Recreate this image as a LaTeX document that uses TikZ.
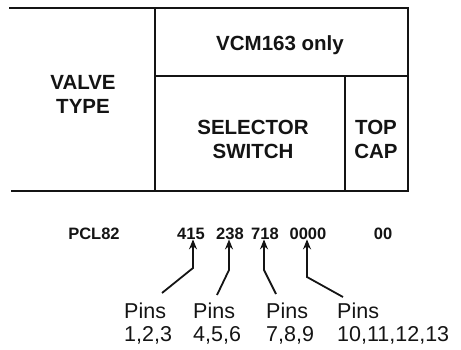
\documentclass[tikz,border=0pt]{standalone}
\usepackage{fontspec}
\setmainfont{Liberation Sans}
\usetikzlibrary{arrows.meta,positioning}
\definecolor{pBlack}{gray}{0.08}
\tikzset{
    frame/.style={line width=1.7pt, pBlack, line cap=rect},
    hdr/.style={inner sep=0pt, align=center, font=\fontsize{20.5}{24}\selectfont\bfseries, pBlack},
    code/.style={inner sep=0pt, font=\fontsize{16.5}{19}\selectfont\bfseries, pBlack},
    pinlbl/.style={inner sep=0pt, align=left, font=\fontsize{21.5}{23}\selectfont, pBlack},
    pinarr/.style={line width=1.8pt, pBlack, -{Stealth[length=10pt,width=8pt]}}
}

\begin{document}
\begin{tikzpicture}[x=1pt,y=-1pt]
\useasboundingbox (0,0) rectangle (461,349);
% table
\draw[frame] (10,8)--(408,8);
\draw[frame] (12,191)--(408,191);
\draw[frame] (155,8)--(155,191);
\draw[frame] (408,8)--(408,191);
\draw[frame] (155,76)--(408,76);
\draw[frame] (345,76)--(345,191);
\node[hdr,anchor=base] (vtype) at ( 83,113) {VALVE\\TYPE};
\node[hdr,anchor=base] (vcm)   at (280, 50) {VCM163 only};
\node[hdr,anchor=base] (sel)   at (253,158) {SELECTOR\\SWITCH};
\node[hdr,anchor=base] (cap)   at (376,158) {TOP\\CAP};
% code line
\node[code,anchor=base] (pcl)  at ( 94,239) {PCL82};
\node[code,anchor=base] (g415) at (191,239) {415};
\node[code,anchor=base] (g238) at (230,239) {238};
\node[code,anchor=base] (g718) at (265,239) {718};
\node[code,anchor=base] (g0)   at (308,239) {0000};
\node[code,anchor=base] (g00)  at (383,239) {00};
% pin labels
\node[pinlbl,anchor=base west] (p1) at (124,341) {Pins\\1,2,3};
\node[pinlbl,anchor=base west] (p2) at (193,341) {Pins\\4,5,6};
\node[pinlbl,anchor=base west] (p3) at (266,341) {Pins\\7,8,9};
\node[pinlbl,anchor=base west] (p4) at (337,341) {Pins\\10,11,12,13};
\coordinate (s1) at (162,293); \coordinate (b1) at (193,268);
\coordinate (s2) at (217,295); \coordinate (b2) at (229,270);
\coordinate (s3) at (276,294); \coordinate (b3) at (264,270);
\coordinate (s4) at (343,297); \coordinate (b4) at (307,277);
\draw[pinarr] (s1)--(b1)--(b1 |- g415.south);
\draw[pinarr] (s2)--(b2)--(b2 |- g238.south);
\draw[pinarr] (s3)--(b3)--(b3 |- g718.south);
\draw[pinarr] (s4)--(b4)--(b4 |- g0.south);
\end{tikzpicture}
\end{document}
